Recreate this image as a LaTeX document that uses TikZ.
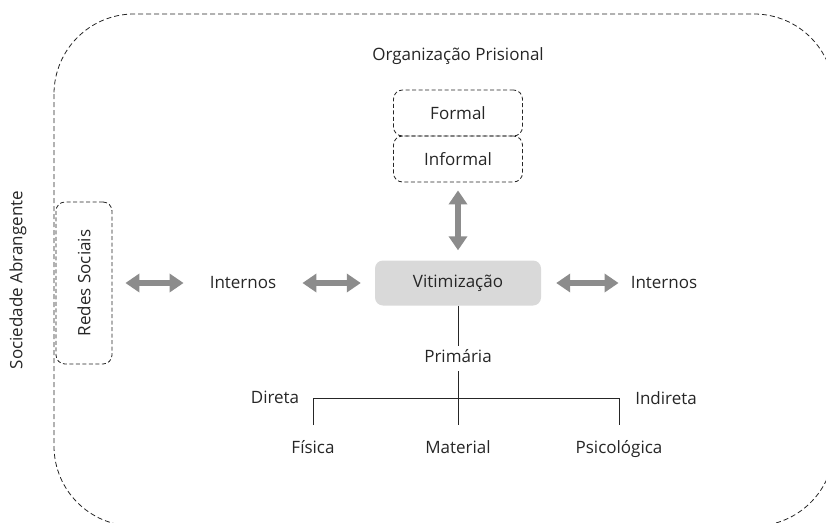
\documentclass[tikz,border=0pt]{standalone}
\usepackage{fontspec}
\setmainfont{Open Sans}
\usetikzlibrary{arrows.meta,calc}
\begin{document}
\begin{tikzpicture}[x=1pt,y=-1pt,
  txt/.style={font=\fontsize{17}{20}\selectfont, text=black!85, inner sep=0pt},
  dbox/.style={draw=black!85, dash pattern=on 4pt off 2.5pt, line width=0.8pt, rounded corners=9pt},
  garrow/.style={{Triangle[width=18pt,length=14pt]}-{Triangle[width=18pt,length=14pt]}, line width=6pt, draw=black!45},
  tline/.style={draw=black!85, line width=0.8pt}]
\useasboundingbox (0,0) rectangle (826,522);
\begin{scope}
\clip (0,0) rectangle (826,522);
\draw[black!85, dash pattern=on 5pt off 3pt, line width=0.8pt, rounded corners=80pt] (54,14) rectangle (834,526);
\end{scope}
\node[txt] (org) at (458,56) {Organização Prisional};
\node[dbox, txt, minimum width=129pt, minimum height=46pt] (formal) at (458,113) {Formal};
\node[dbox, txt, minimum width=129pt, minimum height=46pt] (informal) at (458,159) {Informal};
\node[fill=black!15, rounded corners=8pt, minimum width=166pt, minimum height=45pt, txt] (vit) at (458,283) {Vitimização};
\node[dbox, minimum width=56pt, minimum height=162pt] (redes) at (84,283) {};
\node[txt, rotate=90] (redest) at (redes.center) {Redes Sociais};
\node[txt, rotate=90] (soc) at (18,280) {Sociedade Abrangente};
\node[txt] (intL) at (243,283) {Internos};
\node[txt] (intR) at (664,283) {Internos};
\draw[garrow, shorten <=13pt, shorten >=26pt] (redes.east) -- (intL.west);
\draw[garrow, shorten <=26pt, shorten >=14pt] (intL.east) -- (vit.west);
\draw[garrow, shorten <=15pt, shorten >=12pt] (vit.east) -- (intR.west);
\draw[garrow, shorten <=8pt, shorten >=10pt] (informal.south) -- (vit.north);
\node[txt] (prim) at (458,356) {Primária};
\coordinate (hl) at (313,398);
\coordinate (hr) at (619,398);
\coordinate (fl) at (313,425);
\coordinate (ml) at (458,425);
\coordinate (pl) at (619,425);
\coordinate (pt) at (458,346);
\coordinate (pb) at (458,371);
\draw[tline] (vit.south) -- (pt);
\draw[tline] (pb) -- (ml);
\draw[tline] (fl) -- (hl) -- (hr) -- (pl);
\node[txt, anchor=base] (dir) at (275,403) {Direta};
\node[txt, anchor=base] (ind) at (666,404) {Indireta};
\node[txt, anchor=base] (fis) at (313,453) {Física};
\node[txt, anchor=base] (mat) at (458,453) {Material};
\node[txt, anchor=base] (psi) at (619,453) {Psicológica};
\end{tikzpicture}
\end{document}
